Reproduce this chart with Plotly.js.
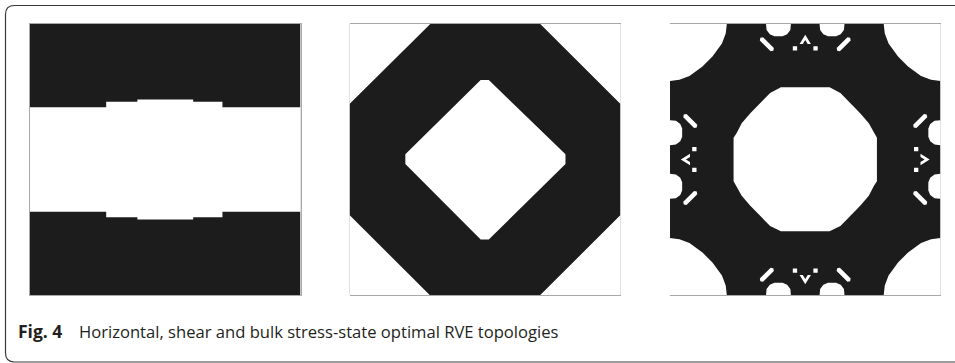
<!DOCTYPE html>
<html>
<head>
<meta charset="utf-8">
<script src="https://cdn.plot.ly/plotly-3.0.1.min.js"></script>
<style>
  html, body { margin: 0; padding: 0; background: #fff; }
  #fig { width: 955px; height: 363px; }
</style>
</head>
<body>
<div id="fig"></div>
<script>
// Unit-cell coordinates: u runs left to right, v runs top to bottom, both 0..1.
// Solid material fills the cell; the void regions are listed as polygons.

const cellDomain = [[0, 0], [1, 0], [1, 1], [0, 1]];

// Horizontal stress state: one horizontal void band with stepped edges
const horizontalVoid = [
  [0, 0.307], [0.283, 0.307], [0.283, 0.287], [0.398, 0.287], [0.398, 0.279],
  [0.604, 0.279], [0.604, 0.287], [0.712, 0.287], [0.712, 0.307], [1, 0.307],
  [1, 0.693], [0.712, 0.693], [0.712, 0.713], [0.604, 0.713], [0.604, 0.721],
  [0.398, 0.721], [0.398, 0.713], [0.283, 0.713], [0.283, 0.693], [0, 0.693]
];

// Shear stress state: corner triangles and a central diamond
const shearCorners = [
  [[0, 0], [0.298, 0], [0, 0.295]],
  [[0.704, 0], [1, 0], [1, 0.295]],
  [[0, 0.705], [0.296, 1], [0, 1]],
  [[1, 0.705], [1, 1], [0.704, 1]]
];
const shearDiamond = [
  [0.484, 0.207], [0.514, 0.207], [0.797, 0.481], [0.797, 0.517],
  [0.514, 0.795], [0.484, 0.795], [0.206, 0.517], [0.206, 0.481]
];

// Bulk stress state
const bulkCornerTL = [
  [0, 0], [0.21, 0], [0.206, 0.035], [0.192, 0.072], [0.157, 0.12],
  [0.12, 0.157], [0.072, 0.192], [0.035, 0.206], [0, 0.21]
];
const bulkCentre = [
  [0.41, 0.233], [0.59, 0.233], [0.63, 0.255], [0.668, 0.293], [0.704, 0.330],
  [0.735, 0.366], [0.754, 0.403], [0.765, 0.42], [0.765, 0.58], [0.754, 0.597],
  [0.735, 0.634], [0.704, 0.670], [0.668, 0.707], [0.63, 0.745], [0.59, 0.765],
  [0.41, 0.765], [0.37, 0.745], [0.332, 0.707], [0.296, 0.670], [0.265, 0.634],
  [0.246, 0.597], [0.235, 0.58], [0.235, 0.42], [0.246, 0.403], [0.265, 0.366],
  [0.296, 0.330], [0.332, 0.293], [0.37, 0.255]
];
// small voids along the top edge; the other three edges repeat them
const bulkEdgeBlobs = [
  [[0.355, 0], [0.447, 0], [0.445, 0.022], [0.433, 0.038], [0.416, 0.045],
   [0.386, 0.045], [0.369, 0.038], [0.357, 0.022]],
  [[0.553, 0], [0.645, 0], [0.643, 0.022], [0.631, 0.038], [0.614, 0.045],
   [0.584, 0.045], [0.567, 0.038], [0.555, 0.022]]
];
const bulkSlits = [
  [[0.334, 0.051], [0.344, 0.049], [0.384, 0.089], [0.382, 0.099], [0.372, 0.101], [0.332, 0.061]],
  [[0.666, 0.051], [0.656, 0.049], [0.616, 0.089], [0.618, 0.099], [0.628, 0.101], [0.668, 0.061]]
];
const bulkChevron = [
  [0.5, 0.040], [0.521, 0.074], [0.509, 0.074], [0.5, 0.059], [0.491, 0.074], [0.479, 0.074]
];
const bulkDots = [
  [[0.454, 0.082], [0.470, 0.082], [0.470, 0.098], [0.454, 0.098]],
  [[0.530, 0.082], [0.546, 0.082], [0.546, 0.098], [0.530, 0.098]]
];

const captionLabel = 'Fig. 4';
const captionText = 'Horizontal, shear and bulk stress-state optimal RVE topologies';

// ---- symmetry of the square cell ----
const toTop = s => s;
const toBottom = s => s.map(([u, v]) => [u, 1 - v]);
const toLeft = s => s.map(([u, v]) => [v, u]);
const toRight = s => s.map(([u, v]) => [1 - v, u]);
const toCorners = s => [s, s.map(([u, v]) => [1 - u, v]),
                        s.map(([u, v]) => [u, 1 - v]), s.map(([u, v]) => [1 - u, 1 - v])];

const edgeFeatures = [...bulkEdgeBlobs, ...bulkSlits, bulkChevron, ...bulkDots];
const bulkVoids = [
  ...toCorners(bulkCornerTL),
  bulkCentre,
  ...[toTop, toBottom, toLeft, toRight].flatMap(f => edgeFeatures.map(f))
];

const SOLID = '#1b1b1b';
const VOID = '#ffffff';

function region(shapes, color, n) {
  const x = [], y = [];
  shapes.forEach(s => {
    s.forEach(p => { x.push(p[0]); y.push(p[1]); });
    x.push(null); y.push(null);
  });
  return {
    type: 'scatter', mode: 'lines', x, y, fill: 'toself', fillcolor: color,
    line: { width: 0, color: color }, hoverinfo: 'skip', showlegend: false,
    xaxis: n === 1 ? 'x' : 'x' + n, yaxis: n === 1 ? 'y' : 'y' + n
  };
}

const traces = [
  region([cellDomain], SOLID, 1),
  region([horizontalVoid], VOID, 1),
  region([cellDomain], SOLID, 2),
  region([...shearCorners, shearDiamond], VOID, 2),
  region([cellDomain], SOLID, 3),
  region(bulkVoids, VOID, 3)
];

const W = 955, H = 363;
const px = v => v / W, py = v => 1 - v / H;

function axis(domain, isY) {
  return {
    domain, range: isY ? [1, 0] : [0, 1], fixedrange: true,
    showgrid: false, zeroline: false, showticklabels: false, ticks: '',
    showline: true, mirror: true, linecolor: '#a9a9a9', linewidth: 1, layer: 'above traces'
  };
}
const yDom = [py(295), py(24)];

// outer frame with rounded left corners
const L = px(5.5), T = py(5.5), B = py(362), R = 1.02;
const rx = 9 / W, ry = 9 / H;
const framePath =
  `M ${L},${B + ry} L ${L},${T - ry} Q ${L},${T} ${L + rx},${T} L ${R},${T} ` +
  `M ${L},${B + ry} Q ${L},${B} ${L + rx},${B} L ${R},${B}`;

const layout = {
  width: W, height: H,
  margin: { l: 0, r: 0, t: 0, b: 0 },
  paper_bgcolor: '#fff', plot_bgcolor: '#fff',
  showlegend: false, hovermode: false,
  xaxis: axis([px(29.5), px(300.5)], false), yaxis: axis(yDom, true),
  xaxis2: axis([px(349.5), px(620.5)], false), yaxis2: axis(yDom, true),
  xaxis3: axis([px(670), px(940.5)], false), yaxis3: axis(yDom, true),
  shapes: [{
    type: 'path', xref: 'paper', yref: 'paper', path: framePath,
    line: { color: '#3a3a3a', width: 1.2 }
  }],
  annotations: [
    { xref: 'paper', yref: 'paper', x: px(16), y: py(331), xanchor: 'left', yanchor: 'middle',
      text: '<b>' + captionLabel + '</b>', showarrow: false,
      font: { family: 'Open Sans, sans-serif', size: 17.5, color: '#231f20' } },
    { xref: 'paper', yref: 'paper', x: px(76.5), y: py(331), xanchor: 'left', yanchor: 'middle',
      text: captionText, showarrow: false,
      font: { family: 'Open Sans, sans-serif', size: 16.6, color: '#231f20' } }
  ]
};

Plotly.newPlot('fig', traces, layout, { displayModeBar: false, staticPlot: true }).then(gd => {
  // soften the topology edges slightly, as in a rasterised density plot
  const ns = 'http://www.w3.org/2000/svg';
  const svg = gd.querySelector('svg.main-svg');
  let defs = svg.querySelector('defs');
  const filt = document.createElementNS(ns, 'filter');
  filt.setAttribute('id', 'soften');
  filt.setAttribute('x', '-5%'); filt.setAttribute('y', '-5%');
  filt.setAttribute('width', '110%'); filt.setAttribute('height', '110%');
  const blur = document.createElementNS(ns, 'feGaussianBlur');
  blur.setAttribute('stdDeviation', '0.75');
  filt.appendChild(blur);
  defs.appendChild(filt);
  gd.querySelectorAll('.scatterlayer').forEach(el => el.setAttribute('filter', 'url(#soften)'));
});
</script>
</body>
</html>
